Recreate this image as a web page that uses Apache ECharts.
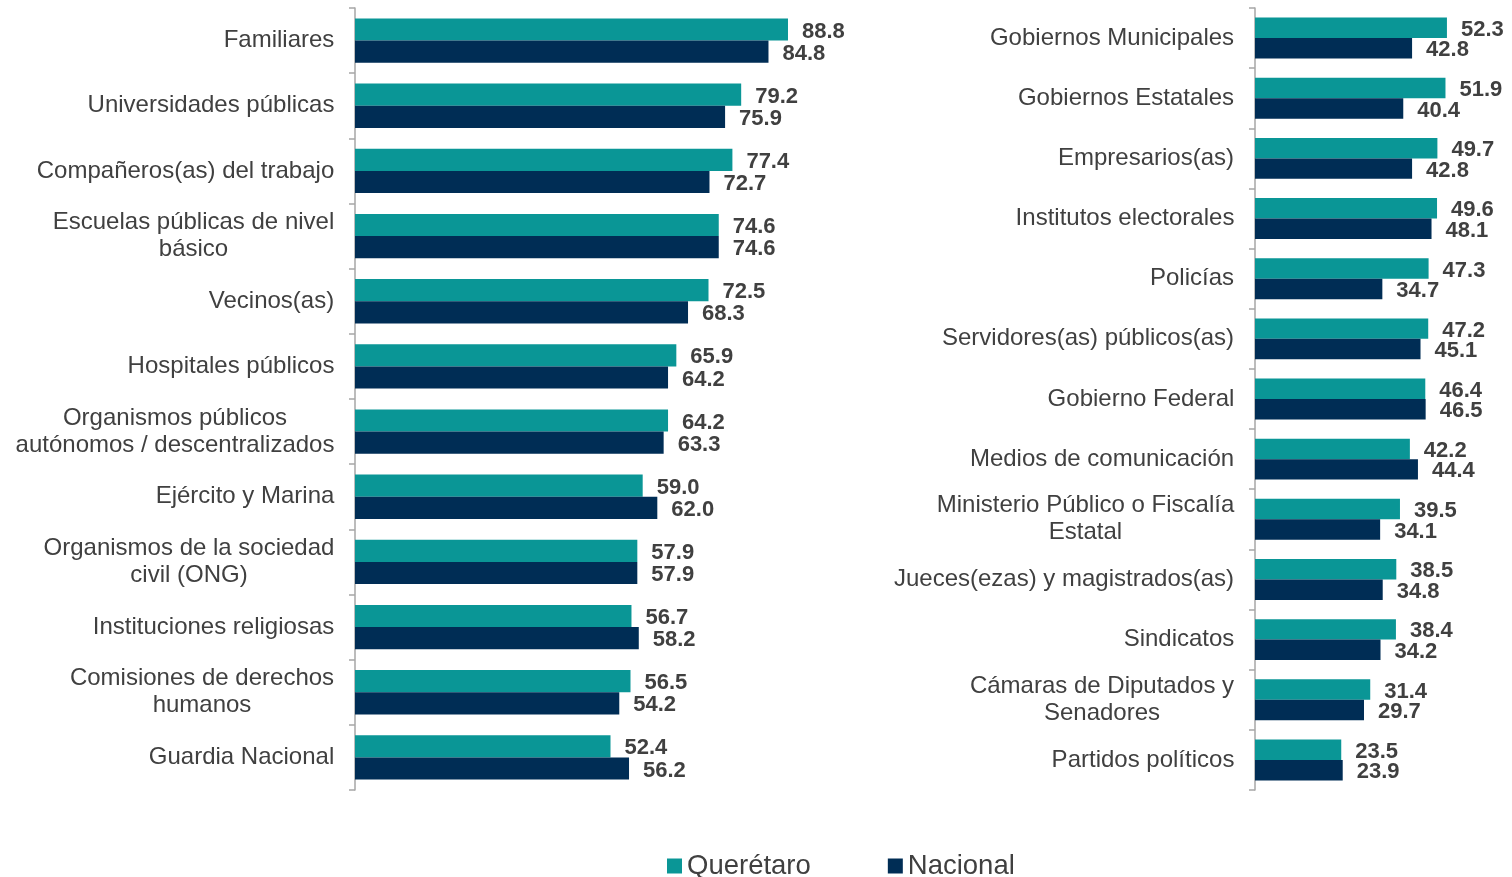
<!DOCTYPE html>
<html>
<head>
<meta charset="utf-8">
<script src="https://cdn.jsdelivr.net/npm/echarts@6/dist/echarts.min.js"></script>
<style>
html, body { margin: 0; padding: 0; background: #fff; }
#chart { width: 1512px; height: 877px; }
</style>
</head>
<body>
<div id="chart"></div>
<script>
// categorias panel izquierdo
var catsLeft = ['Familiares', 'Universidades públicas', 'Compañeros(as) del trabajo',
    'Escuelas públicas de nivel\nbásico', 'Vecinos(as)', 'Hospitales públicos',
    'Organismos públicos\nautónomos / descentralizados', 'Ejército y Marina',
    'Organismos de la sociedad\ncivil (ONG)', 'Instituciones religiosas',
    'Comisiones de derechos\nhumanos', 'Guardia Nacional'];
var qroLeft = [88.8, 79.2, 77.4, 74.6, 72.5, 65.9, 64.2, 59.0, 57.9, 56.7, 56.5, 52.4];
var nacLeft = [84.8, 75.9, 72.7, 74.6, 68.3, 64.2, 63.3, 62.0, 57.9, 58.2, 54.2, 56.2];

// categorias panel derecho
var catsRight = ['Gobiernos Municipales', 'Gobiernos Estatales', 'Empresarios(as)',
    'Institutos electorales', 'Policías', 'Servidores(as) públicos(as)', 'Gobierno Federal',
    'Medios de comunicación', 'Ministerio Público o Fiscalía\nEstatal',
    'Jueces(ezas) y magistrados(as)', 'Sindicatos', 'Cámaras de Diputados y\nSenadores',
    'Partidos políticos'];
var qroRight = [52.3, 51.9, 49.7, 49.6, 47.3, 47.2, 46.4, 42.2, 39.5, 38.5, 38.4, 31.4, 23.5];
var nacRight = [42.8, 40.4, 42.8, 48.1, 34.7, 45.1, 46.5, 44.4, 34.1, 34.8, 34.2, 29.7, 23.9];

var colorQro = '#0a9696';
var colorNac = '#002d55';
var txt = '#404040';
var font = '"Liberation Sans", Arial, sans-serif';
var catSize = 24;

// medir texto para centrar las lineas dentro del bloque alineado a la derecha
var ctx = document.createElement('canvas').getContext('2d');
ctx.font = catSize + 'px "Liberation Sans"';

function richFor(cats) {
    var rich = {};
    for (var i = 0; i < cats.length; i++) {
        var lines = cats[i].split('\n');
        var w = 0;
        for (var j = 0; j < lines.length; j++) {
            w = Math.max(w, ctx.measureText(lines[j]).width);
        }
        rich['w' + i] = { width: Math.ceil(w) + 1, align: 'center', color: txt,
            fontSize: catSize, fontFamily: font, lineHeight: 27 };
    }
    return rich;
}

function valueLabel() {
    return {
        show: true, position: 'right', distance: 14, offset: [0, 2],
        color: txt, fontWeight: 'bold', fontSize: 22, fontFamily: font,
        formatter: function (p) { return p.value.toFixed(1); }
    };
}

function catAxis(idx, data) {
    return {
        type: 'category', gridIndex: idx, data: data, inverse: true,
        axisLine: { show: true, lineStyle: { color: '#a6a6a6', width: 1.5 } },
        axisTick: { show: true, interval: 0, length: 6, lineStyle: { color: '#a6a6a6', width: 1.5 } },
        axisLabel: {
            color: txt, fontSize: catSize, fontFamily: font, margin: 20,
            lineHeight: 27, align: 'right', interval: 0,
            rich: richFor(data),
            formatter: function (v, i) {
                return v.split('\n').map(function (l) { return '{w' + i + '|' + l + '}'; }).join('\n');
            }
        }
    };
}

function valAxis(idx, max) {
    return {
        type: 'value', gridIndex: idx, min: 0, max: max,
        show: false, splitLine: { show: false }
    };
}

function bars(name, idx, data, color) {
    return {
        name: name, type: 'bar', xAxisIndex: idx, yAxisIndex: idx, data: data,
        barGap: '0%', barCategoryGap: '32%',
        itemStyle: { color: color },
        label: valueLabel()
    };
}

var myChart = echarts.init(document.getElementById('chart'));
var option = {
    animation: false,
    textStyle: { fontFamily: font },
    grid: [
        { left: 355, width: 487.6, top: 8, height: 782 },
        { left: 1255, width: 220.2, top: 8, height: 782 }
    ],
    xAxis: [valAxis(0, 100), valAxis(1, 60)],
    yAxis: [catAxis(0, catsLeft), catAxis(1, catsRight)],
    legend: {
        left: 662, top: 847, icon: 'rect', itemWidth: 15, itemHeight: 15, itemGap: 77,
        textStyle: { color: txt, fontSize: 27.5, fontFamily: font },
        data: ['Querétaro', 'Nacional']
    },
    series: [
        bars('Querétaro', 0, qroLeft, colorQro),
        bars('Nacional', 0, nacLeft, colorNac),
        bars('Querétaro', 1, qroRight, colorQro),
        bars('Nacional', 1, nacRight, colorNac)
    ]
};
myChart.setOption(option);
window.onresize = function () {
    myChart.resize();
}
</script>
</body>
</html>
